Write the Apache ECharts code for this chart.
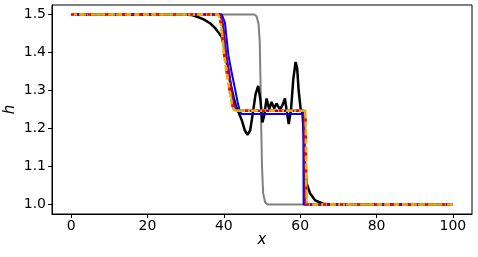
<!DOCTYPE html>
<html><head><meta charset="utf-8">
<script src="https://cdn.jsdelivr.net/npm/echarts@6/dist/echarts.min.js"></script>
<style>html,body{margin:0;padding:0;background:#fff}#c{width:478px;height:257px}</style>
</head><body><div id="c"></div>
<script>
// ---- data (x, h) ----
const xTicks = [0, 20, 40, 60, 80, 100];
const yTicks = [1.0, 1.1, 1.2, 1.3, 1.4, 1.5];

const initialGray = [[0,1.5],[48,1.5],[48.6,1.495],[49.1,1.475],[49.4,1.43],[49.6,1.33],[49.8,1.2],[50.0,1.1],[50.3,1.03],[50.8,1.006],[51.4,1.0],[100,1.0]];

const blackLine = [[0,1.5],[30,1.5],[31.5,1.499],[33,1.494],[34.6,1.488],[36.4,1.477],[37.7,1.465],[38.1,1.459],[38.8,1.45],[39.4,1.442],[40.2,1.41],[41,1.36],[41.8,1.315],[42.6,1.28],[43.3,1.255],[43.8,1.244],[44.7,1.222],[45.5,1.195],[46.2,1.183],[46.9,1.195],[47.6,1.24],[48.3,1.29],[49.0,1.312],[49.6,1.275],[50.1,1.216],[50.6,1.235],[51.2,1.279],[51.9,1.25],[52.5,1.27],[53.2,1.253],[53.8,1.266],[54.7,1.25],[55.4,1.262],[56.0,1.279],[56.5,1.245],[57.0,1.212],[57.6,1.25],[58.2,1.33],[58.8,1.375],[59.2,1.36],[59.6,1.30],[60.1,1.253],[60.6,1.24],[61.0,1.18],[61.3,1.1],[61.7,1.055],[62.6,1.029],[63.9,1.011],[66,1.002],[68,1.0],[100,1.0]];

const blueLine = [[0,1.5],[39.5,1.5],[39.9,1.497],[40.3,1.478],[40.7,1.44],[41.2,1.393],[42.0,1.35],[42.9,1.306],[43.6,1.27],[44.2,1.245],[44.7,1.238],[60.8,1.238],[60.9,1.0],[100,1.0]];

const purpleLine = [[0,1.5],[39.0,1.5],[39.5,1.488],[40.0,1.455],[40.6,1.393],[41.3,1.35],[41.9,1.306],[42.6,1.265],[43.2,1.25],[43.8,1.247],[61.0,1.247],[61.2,1.1],[61.3,1.0],[100,1.0]];

const schemeLine = [[0,1.5],[38.4,1.5],[39.0,1.49],[39.5,1.455],[40.1,1.393],[40.8,1.345],[41.4,1.306],[42.1,1.265],[42.6,1.25],[43.2,1.247],[61.3,1.247],[61.5,1.2],[61.6,1.05],[61.8,1.0],[100,1.0]];

const chart = echarts.init(document.getElementById('c'), null, {renderer: 'canvas'});
const font = 'DejaVu Sans';
function line(data, color, width, type, z) {
  return {type: 'line', data: data, showSymbol: false, symbol: 'none', z: z,
    lineStyle: {color: color, width: width, type: type, cap: 'butt'}, silent: true};
}
chart.setOption({
  animation: false,
  grid: {left: 52, top: 5, right: 6, bottom: 43, show: true, borderColor: '#000', borderWidth: 1,
    containLabel: false, outerBoundsMode: 'none'},
  xAxis: {
    type: 'value', min: -5, max: 105,
    name: 'x', nameLocation: 'middle', nameGap: 19, nameMoveOverlap: false,
    nameTextStyle: {fontFamily: font, fontSize: 15, fontStyle: 'italic', color: '#000'},
    axisLine: {show: true, onZero: false, lineStyle: {color: '#000', width: 1}},
    axisTick: {show: true, length: 4, customValues: xTicks, lineStyle: {color: '#000'}},
    axisLabel: {customValues: xTicks, fontFamily: font, fontSize: 14, color: '#000', margin: 5},
    splitLine: {show: false}
  },
  yAxis: {
    type: 'value', min: 0.975, max: 1.525,
    name: 'h', nameLocation: 'middle', nameGap: 34, nameMoveOverlap: false,
    nameTextStyle: {fontFamily: font, fontSize: 15, fontStyle: 'italic', color: '#000'},
    axisLine: {show: true, onZero: false, lineStyle: {color: '#000', width: 1}},
    axisTick: {show: true, length: 4, customValues: yTicks, lineStyle: {color: '#000'}},
    axisLabel: {customValues: yTicks, fontFamily: font, fontSize: 14, color: '#000', margin: 6,
      formatter: v => Number(v).toFixed(1)},
    splitLine: {show: false}
  },
  series: [
    line(initialGray, '#808080', 2, 'solid', 1),
    line(blackLine, '#000000', 2.5, 'solid', 2),
    line(blueLine, '#0000ff', 2, 'solid', 3),
    line(purpleLine, '#800080', 2.5, 'solid', 4),
    line(schemeLine, '#9acd32', 2.5, [4, 4], 5),
    line(schemeLine, '#ffa500', 2.5, [6, 3], 6),
    line(schemeLine, '#ff0000', 2.5, [3, 14], 7)
  ]
});
</script></body></html>
